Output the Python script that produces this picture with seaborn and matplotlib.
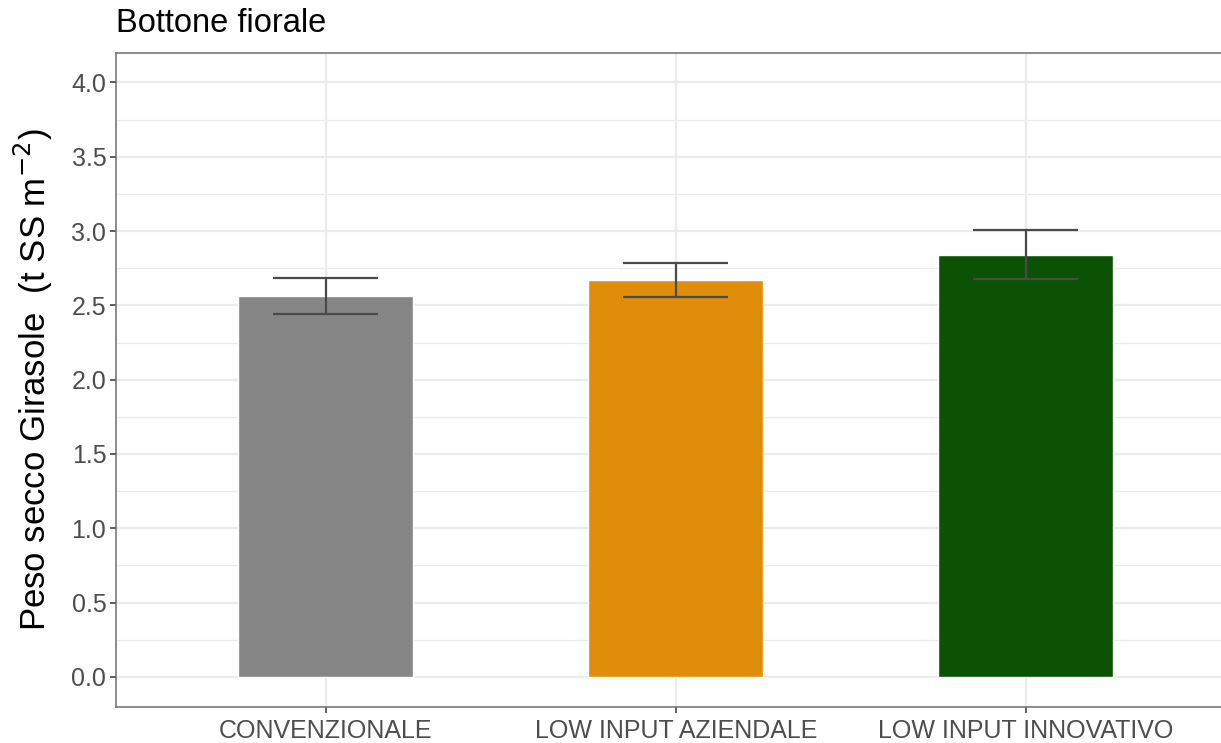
import matplotlib
matplotlib.use("Agg")
import matplotlib.pyplot as plt
import numpy as np
import pandas as pd
import seaborn as sns

TREATMENTS = ["CONVENZIONALE", "LOW INPUT AZIENDALE", "LOW INPUT INNOVATIVO"]
MEANS = [2.561, 2.672, 2.840]
SE = [0.120, 0.115, 0.165]
COLORS = ["#868686", "#DF8D0A", "#0C5204"]
Y_TICKS = [0.0, 0.5, 1.0, 1.5, 2.0, 2.5, 3.0, 3.5, 4.0]

df = pd.DataFrame({"trattamento": TREATMENTS, "peso": MEANS, "se": SE})

sns.set_theme(style="white")
plt.rcParams["font.family"] = ["Liberation Sans", "DejaVu Sans"]

fig = plt.figure(figsize=(12.21, 7.43), dpi=100)
ax = fig.add_axes([0.0950, 0.0489, 0.9171, 0.8802])

# griglia stile theme_bw
for y in np.arange(-0.25, 4.5, 0.25):
    major = abs(y * 2 - round(y * 2)) < 1e-9
    ax.axhline(y, color="#EBEBEB", lw=1.6 if major else 0.9, zorder=0)
for i in range(len(TREATMENTS)):
    ax.axvline(i, color="#EBEBEB", lw=1.6, zorder=0)

sns.barplot(
    data=df, x="trattamento", y="peso", hue="trattamento",
    palette=COLORS, width=0.5, legend=False, errorbar=None,
    saturation=1, ax=ax, zorder=2,
)

x = np.arange(len(TREATMENTS))
lo = df["peso"] - df["se"]
hi = df["peso"] + df["se"]
ax.vlines(x, lo, hi, color="#4A4A4A", lw=1.6, zorder=3)
ax.hlines(lo, x - 0.15, x + 0.15, color="#4A4A4A", lw=1.6, zorder=3)
ax.hlines(hi, x - 0.15, x + 0.15, color="#4A4A4A", lw=1.6, zorder=3)

ax.set_xlim(-0.6, 2.6)
ax.set_ylim(-0.2, 4.2)
ax.set_yticks(Y_TICKS)
ax.set_yticklabels([f"{v:.1f}" for v in Y_TICKS])

for side in ["left", "top", "bottom", "right"]:
    ax.spines[side].set_visible(True)
    ax.spines[side].set_color("#6E6E6E")
    ax.spines[side].set_linewidth(1.1)

ax.tick_params(axis="both", which="major", length=4, width=1.1, color="#333333",
               labelcolor="#4D4D4D", labelsize=18, pad=3)
ax.tick_params(axis="y", left=True)
ax.tick_params(axis="x", bottom=True, pad=5)

ax.set_xlabel("")
ax.set_ylabel(r"Peso secco Girasole  (t SS m$^{-2}$)", fontsize=25, color="black", labelpad=12)
ax.set_title("Bottone fiorale", loc="left", fontsize=23.5, color="black", pad=15, x=0.0)

fig.savefig("out.png", dpi=100)
